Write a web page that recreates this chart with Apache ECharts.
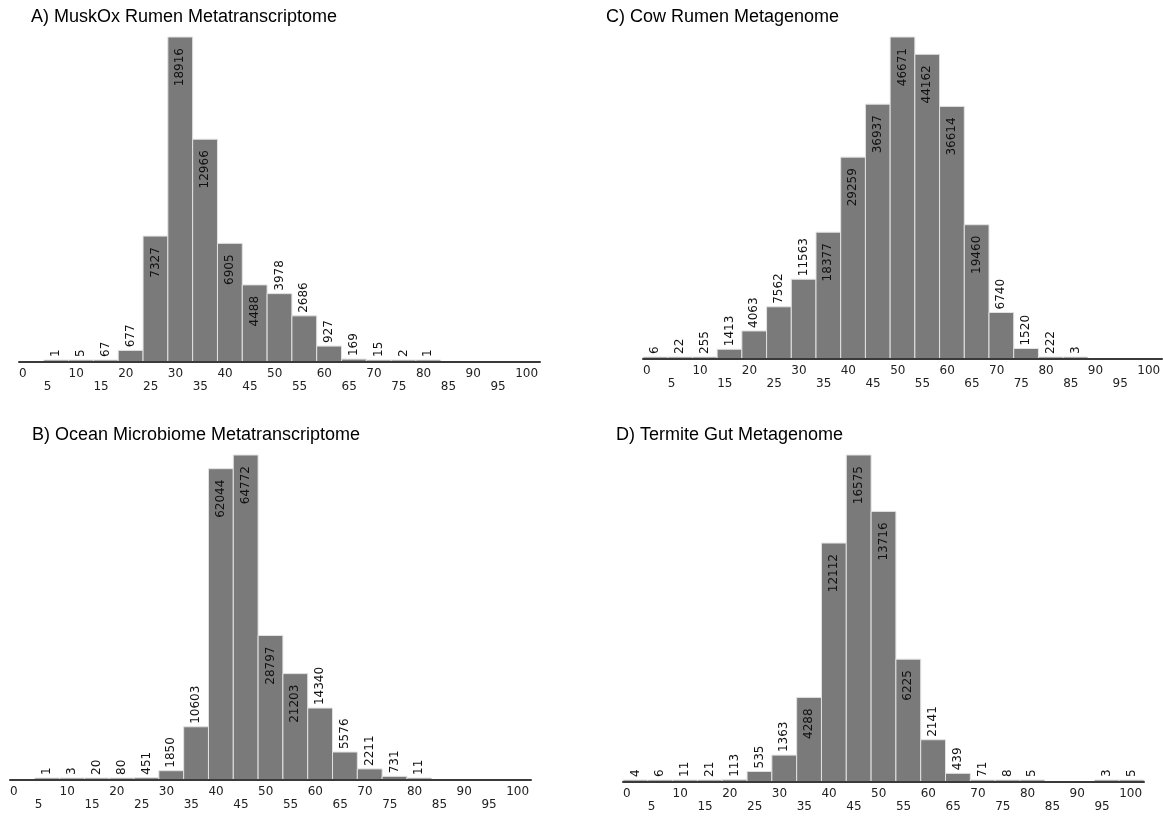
<!DOCTYPE html>
<html>
<head>
<meta charset="utf-8">
<script src="https://cdn.jsdelivr.net/npm/echarts@6/dist/echarts.min.js"></script>
<style>
  html, body { margin: 0; padding: 0; background: #ffffff; }
  #chart { width: 1163px; height: 818px; }
</style>
</head>
<body>
<div id="chart"></div>
<script>
// GC-content histograms: 5%-wide bins starting at 0, 5, ..., 100
const binStarts = [0, 5, 10, 15, 20, 25, 30, 35, 40, 45, 50, 55, 60, 65, 70, 75, 80, 85, 90, 95, 100];
const binWidth = 5;

const upperTicks = [0, 10, 20, 30, 40, 50, 60, 70, 80, 90, 100];
const lowerTicks = [5, 15, 25, 35, 45, 55, 65, 75, 85, 95];

const titleA = 'A) MuskOx Rumen Metatranscriptome';
const titleB = 'B) Ocean Microbiome Metatranscriptome';
const titleC = 'C) Cow Rumen Metagenome';
const titleD = 'D) Termite Gut Metagenome';

const muskOxCounts  = [0, 1, 5, 67, 677, 7327, 18916, 12966, 6905, 4488, 3978, 2686, 927, 169, 15, 2, 1, 0, 0, 0, 0];
const oceanCounts   = [0, 1, 3, 20, 80, 451, 1850, 10603, 62044, 64772, 28797, 21203, 14340, 5576, 2211, 731, 11, 0, 0, 0, 0];
const cowCounts     = [6, 22, 255, 1413, 4063, 7562, 11563, 18377, 29259, 36937, 46671, 44162, 36614, 19460, 6740, 1520, 222, 3, 0, 0, 0];
const termiteCounts = [4, 6, 11, 21, 113, 535, 1363, 4288, 12112, 16575, 13716, 6225, 2141, 439, 71, 8, 5, 0, 0, 3, 5];

const labelFont = '"DejaVu Sans", Verdana, sans-serif';
const titleFont = '"Liberation Sans", Arial, sans-serif';
const labelSize = 12;
const digitWidth = 7.63;

// panel placement on the page
const panels = [
  { title: titleA, counts: muskOxCounts,  grid: { left: 19,  top: 37,  width: 521, height: 325 }, titleLeft: 31,  titleTop: 8 },
  { title: titleC, counts: cowCounts,     grid: { left: 643, top: 37,  width: 519, height: 322 }, titleLeft: 606, titleTop: 8 },
  { title: titleB, counts: oceanCounts,   grid: { left: 10,  top: 455, width: 521, height: 325 }, titleLeft: 32,  titleTop: 426 },
  { title: titleD, counts: termiteCounts, grid: { left: 623, top: 455, width: 521, height: 327 }, titleLeft: 616, titleTop: 426 }
];

const grids = [], xAxes = [], yAxes = [], series = [], titles = [];

panels.forEach((p, gi) => {
  grids.push(Object.assign({ outerBoundsMode: 'none', containLabel: false }, p.grid));
  titles.push({
    text: p.title, left: p.titleLeft, top: p.titleTop, padding: 0,
    textStyle: { fontFamily: titleFont, fontSize: 18, fontWeight: 'normal', color: '#000' }
  });
  // main axis: line + 0,10,...,100
  xAxes.push({
    gridIndex: gi, type: 'value', position: 'bottom', min: 0, max: 105, interval: 5, z: 5,
    axisLine: { show: true, onZero: false, lineStyle: { color: '#3a3a3a', width: 2 } },
    axisTick: { show: false }, splitLine: { show: false },
    axisLabel: {
      margin: 6, align: 'left', color: '#222', fontFamily: labelFont, fontSize: labelSize,
      formatter: v => (upperTicks.indexOf(v) >= 0 ? String(v) : '')
    }
  });
  // second row of labels: 5,15,...,95
  xAxes.push({
    gridIndex: gi, type: 'value', position: 'bottom', min: 0, max: 105, interval: 5,
    axisLine: { show: false }, axisTick: { show: false }, splitLine: { show: false },
    axisLabel: {
      margin: 19, align: 'left', color: '#222', fontFamily: labelFont, fontSize: labelSize,
      formatter: v => (lowerTicks.indexOf(v) >= 0 ? String(v) : '')
    }
  });
  const maxCount = Math.max.apply(null, p.counts);
  yAxes.push({ gridIndex: gi, type: 'value', min: 0, max: maxCount, show: false });

  series.push({
    type: 'custom',
    xAxisIndex: gi * 2,
    yAxisIndex: gi,
    encode: { x: [0, 1], y: 2 },
    data: p.counts.map((c, i) => [binStarts[i], binStarts[i] + binWidth, c]),
    renderItem: function (params, api) {
      const v = api.value(2);
      if (!v) return null;
      const pTop = api.coord([api.value(0), v]);
      const pBase = api.coord([api.value(1), 0]);
      const x0 = pTop[0], x1 = pBase[0], base = pBase[1];
      let top = pTop[1];
      if (base - top < 2) top = base - 2;
      const text = String(v);
      const textLen = text.length * digitWidth;
      // count goes inside the bar when the bar is tall enough, above it otherwise
      const inside = (base - top) > 2 * textLen + 10;
      return {
        type: 'group',
        children: [
          {
            type: 'rect',
            shape: { x: x0, y: top, width: x1 - x0, height: base - top },
            style: { fill: '#7a7a7a', stroke: '#e2e2e2', lineWidth: 1 }
          },
          {
            type: 'text',
            x: (x0 + x1) / 2,
            y: inside ? top + 11 : top - 3,
            rotation: Math.PI / 2,
            style: {
              text: text, fill: '#111', fontSize: labelSize, fontFamily: labelFont,
              align: inside ? 'right' : 'left', verticalAlign: 'middle'
            }
          }
        ]
      };
    }
  });
});

const chart = echarts.init(document.getElementById('chart'), null, { renderer: 'canvas' });
chart.setOption({
  animation: false,
  backgroundColor: '#ffffff',
  title: titles,
  grid: grids,
  xAxis: xAxes,
  yAxis: yAxes,
  series: series
});
</script>
</body>
</html>
